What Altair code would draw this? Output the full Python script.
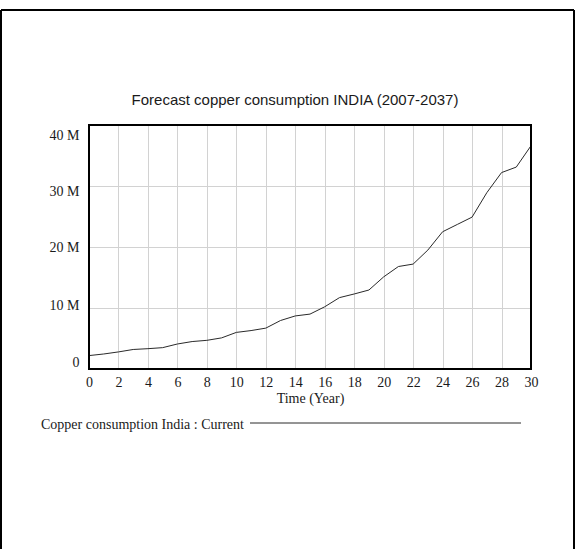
import altair as alt
import pandas as pd

# Forecast horizon (years after 2007) and copper consumption (tonnes)
years = list(range(0, 31))
consumption_m = [2.2, 2.46, 2.8, 3.2, 3.33, 3.5, 4.1, 4.5, 4.7, 5.1,
                 6.0, 6.3, 6.7, 7.95, 8.7, 9.0, 10.2, 11.7, 12.3, 12.95,
                 15.1, 16.8, 17.2, 19.5, 22.5, 23.7, 24.9, 28.9, 32.2, 33.1,
                 36.6]
x_ticks = list(range(0, 31, 2))
y_ticks = [0, 10_000_000, 20_000_000, 30_000_000, 40_000_000]
series_name = "Copper consumption India : Current"
chart_title = "Forecast copper consumption INDIA (2007-2037)"

df = pd.DataFrame({"year": years,
                   "value": [v * 1_000_000 for v in consumption_m]})

serif = "Liberation Serif"
ink = "#1a1a1a"

line = alt.Chart(df).mark_line(color="#2a2a2a", strokeWidth=1).encode(
    x=alt.X("year:Q",
            scale=alt.Scale(domain=[0, 30], nice=False, zero=False),
            axis=alt.Axis(values=x_ticks, title="Time (Year)",
                          labelFont=serif, labelFontSize=14, labelColor=ink,
                          titleFont=serif, titleFontSize=14, titleColor=ink,
                          titleFontWeight="normal", labelPadding=6,
                          titlePadding=2, ticks=False, domain=False,
                          gridColor="#d2d2d2", gridWidth=1,
                          labelFlush=False)),
    y=alt.Y("value:Q",
            scale=alt.Scale(domain=[0, 40_000_000], nice=False),
            axis=alt.Axis(values=y_ticks, title=None,
                          labelExpr="datum.value == 0 ? '0' : (datum.value / 1000000) + ' M'",
                          labelFont=serif, labelFontSize=14, labelColor=ink,
                          labelPadding=10, ticks=False, domain=False,
                          gridColor="#d2d2d2", gridWidth=1,
                          labelOffset={"condition": [
                              {"test": "datum.value == 40000000", "value": 10},
                              {"test": "datum.value == 30000000", "value": 5},
                              {"test": "datum.value == 10000000", "value": -3},
                              {"test": "datum.value == 0", "value": -7}],
                              "value": 0})),
)

one = pd.DataFrame({"k": [0]})

# Black border of the plotting area, drawn above the grid
plot_border = alt.Chart(one).mark_rect(
    fill=None, fillOpacity=0, stroke="black", strokeWidth=2
).encode(x=alt.value(0), x2=alt.value(442), y=alt.value(0), y2=alt.value(244))

# Outer frame around the figure
frame_top = alt.Chart(one).mark_rule(color="black", strokeWidth=2).encode(
    x=alt.value(-88), x2=alt.value(485), y=alt.value(-115))
frame_left = alt.Chart(one).mark_rule(color="black", strokeWidth=2).encode(
    x=alt.value(-88), y=alt.value(-115), y2=alt.value(440))
frame_right = alt.Chart(one).mark_rule(color="black", strokeWidth=2).encode(
    x=alt.value(485), y=alt.value(-115), y2=alt.value(440))

# Heading above the plot
title_df = pd.DataFrame({"t": [chart_title]})
heading = alt.Chart(title_df).mark_text(
    align="center", baseline="alphabetic", font="Liberation Sans",
    fontSize=15, color=ink
).encode(text="t:N", x=alt.value(206), y=alt.value(-20))

# Series key below the plot: name followed by a line sample
key_df = pd.DataFrame({"name": [series_name]})
key_text = alt.Chart(key_df).mark_text(
    align="left", baseline="middle", font=serif, fontSize=14, color=ink
).encode(text="name:N", x=alt.value(-48), y=alt.value(300))
key_line = alt.Chart(key_df).mark_rule(color="#2a2a2a", strokeWidth=1).encode(
    x=alt.value(161), x2=alt.value(432), y=alt.value(298))

chart = alt.layer(
    line, plot_border, frame_top, frame_left, frame_right,
    heading, key_text, key_line
).properties(
    width=442, height=244,
    background="white",
    autosize=alt.AutoSizeParams(type="none"),
    padding={"left": 89, "top": 125, "right": 44, "bottom": 180},
).configure_view(strokeWidth=0)

chart.save("out.html", embed_options={"renderer": "svg", "actions": False})
